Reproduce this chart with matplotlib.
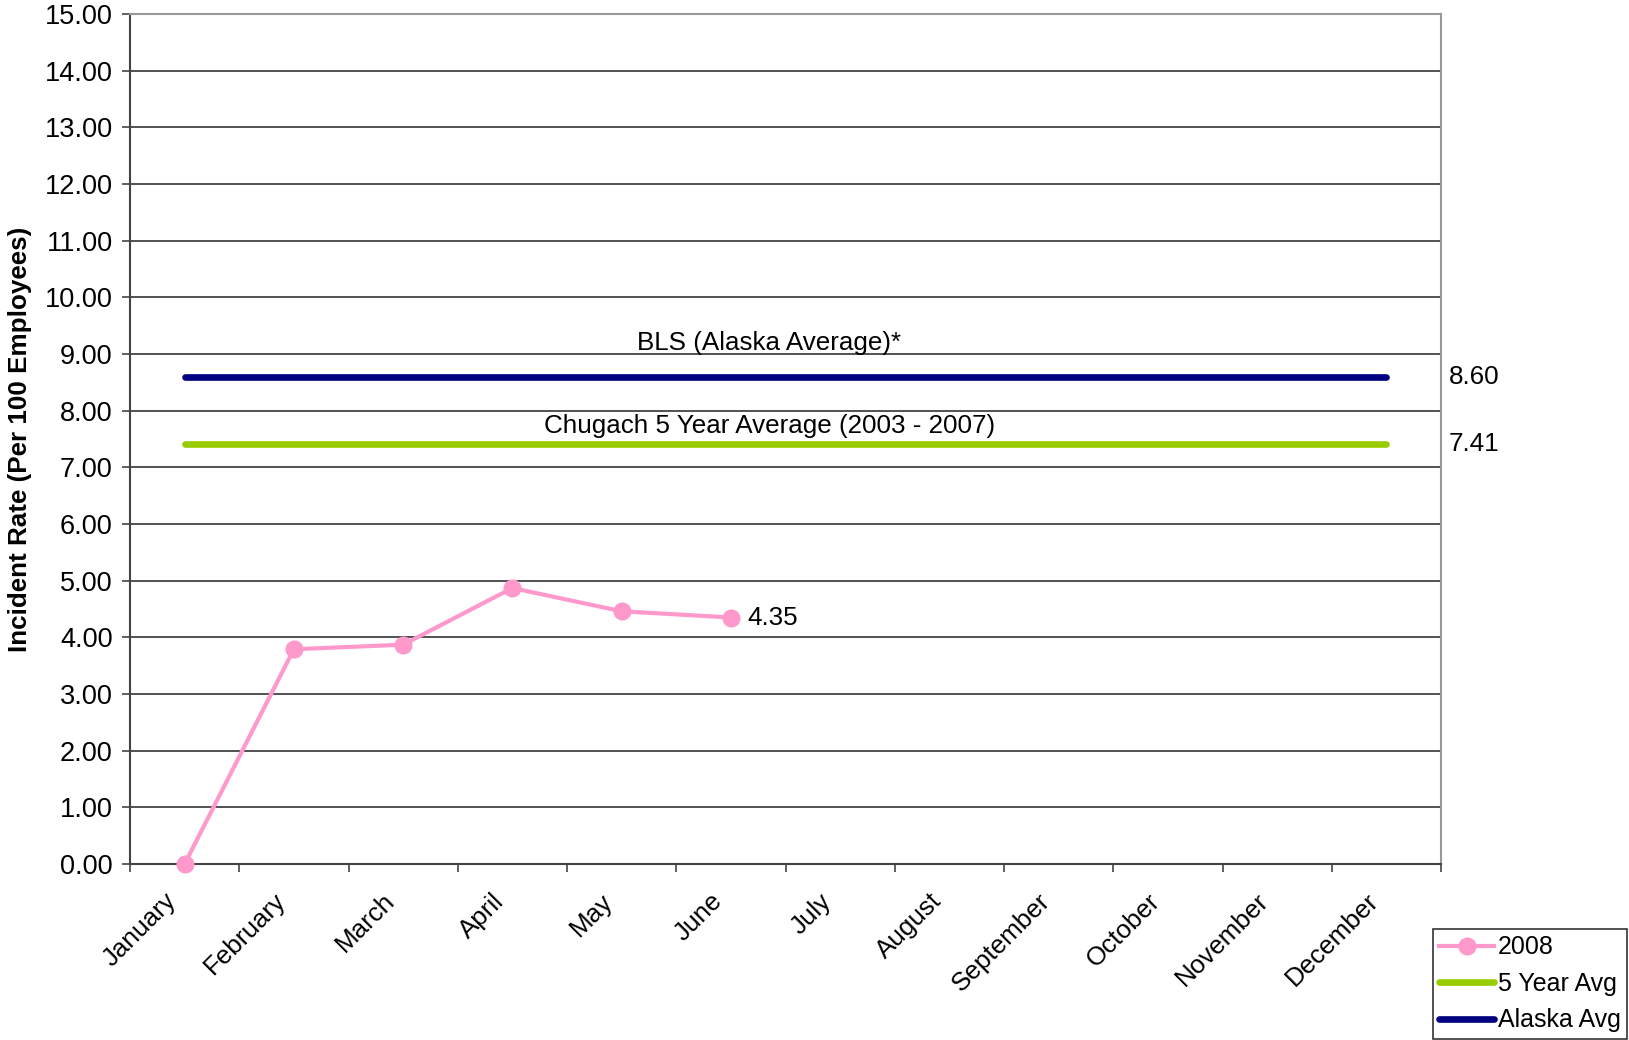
import numpy as np
import matplotlib
matplotlib.use('Agg')
import matplotlib.pyplot as plt
import matplotlib.transforms as mtransforms

plt.rcParams['font.family'] = ['Liberation Sans', 'DejaVu Sans']

# ---------------------------------------------------------------------------
# data
months = ['January', 'February', 'March', 'April', 'May', 'June', 'July',
          'August', 'September', 'October', 'November', 'December']
rate_2008 = [0.00, 3.79, 3.87, 4.87, 4.46, 4.35]
five_year_avg = 7.41
alaska_avg = 8.60
y_ticks = np.arange(0, 16, 1)
# ---------------------------------------------------------------------------

FS = 18.7
x_all = np.arange(len(months))
x_2008 = np.arange(len(rate_2008))

fig = plt.figure(figsize=(16.29, 10.40), dpi=100)
ax = fig.add_axes([130/1629, 1 - 864/1040, (1441 - 130)/1629, (864 - 14)/1040])

pink, green, navy = '#FF99CC', '#99CC00', '#000080'

l1, = ax.plot(x_2008, rate_2008, color=pink, lw=3, marker='o', ms=12,
              label='2008', zorder=4, clip_on=False)
l2, = ax.plot(x_all, [five_year_avg]*len(months), color=green, lw=4.8,
              solid_capstyle='round', label='5 Year Avg', zorder=3)
l3, = ax.plot(x_all, [alaska_avg]*len(months), color=navy, lw=4.8,
              solid_capstyle='round', label='Alaska Avg', zorder=3)

ax.set_xlim(-0.5, 11.5)
ax.set_ylim(0, 15)
ax.set_yticks(y_ticks)
ax.set_yticklabels(['%.2f' % v for v in y_ticks], fontsize=19.5)
ax.yaxis.grid(True, color='#222222', lw=1.1)
ax.set_axisbelow(True)
ax.tick_params(axis='y', length=6, width=1.2, color='#444444', pad=6.5)

ax.set_xticks(x_all)
ax.set_xticklabels(months, fontsize=FS, rotation=45, ha='right', va='center',
                   rotation_mode='anchor')
ax.set_xticks(np.arange(-0.5, 12, 1), minor=True)
ax.tick_params(axis='x', which='major', length=0, pad=24)
ax.tick_params(axis='x', which='minor', length=6, width=1.2, color='#444444')
shift = mtransforms.ScaledTranslation(-12/100, 0, fig.dpi_scale_trans)
for lab in ax.get_xticklabels():
    lab.set_transform(lab.get_transform() + shift)

for side in ['left', 'bottom']:
    ax.spines[side].set_color('#444444')
    ax.spines[side].set_linewidth(1.5)
for side in ['top', 'right']:
    ax.spines[side].set_color('#999999')
    ax.spines[side].set_linewidth(1.5)

ax.set_ylabel('Incident Rate (Per 100 Employees)', fontsize=FS, fontweight='bold',
              labelpad=9)

# line titles
ax.text(5.35, 9.2, 'BLS (Alaska Average)*', fontsize=FS, ha='center', va='center')
ax.text(5.35, 7.73, 'Chugach 5 Year Average (2003 - 2007)', fontsize=FS,
        ha='center', va='center')

# data labels
ax.annotate('%.2f' % alaska_avg, (11, alaska_avg), xytext=(45, 0),
            textcoords='offset points', fontsize=FS, va='center',
            annotation_clip=False)
ax.annotate('%.2f' % five_year_avg, (11, five_year_avg), xytext=(45, 0),
            textcoords='offset points', fontsize=FS, va='center',
            annotation_clip=False)
ax.annotate('%.2f' % rate_2008[-1], (x_2008[-1], rate_2008[-1]), xytext=(12, 0),
            textcoords='offset points', fontsize=FS, va='center')

leg = fig.legend(handles=[l1, l2, l3], loc='upper left',
                 bbox_to_anchor=(1433/1629, 1 - 929/1040), fontsize=18,
                 frameon=True, fancybox=False, edgecolor='black',
                 handlelength=2.2, handletextpad=0.15, borderpad=0.25,
                 labelspacing=0.5, borderaxespad=0)
leg.get_frame().set_linewidth(1.2)

fig.savefig('out.png', dpi=100)
